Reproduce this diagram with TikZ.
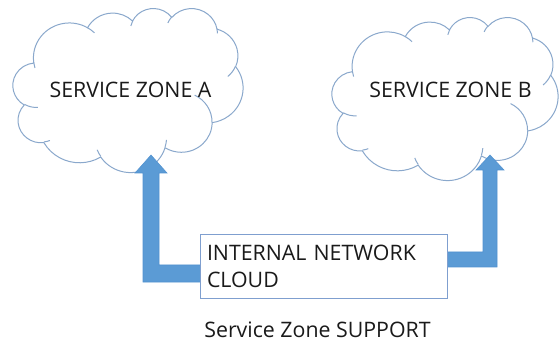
\documentclass[tikz,border=0pt]{standalone}
\usepackage{fontspec}
\setmainfont{Open Sans}
\definecolor{cloudline}{HTML}{8AA8CC}
\definecolor{arrowblue}{HTML}{5B9BD5}
\definecolor{arrowedge}{HTML}{5292D0}
\definecolor{boxline}{HTML}{7F9FCF}
\definecolor{txt}{HTML}{1A1A1A}
\makeatletter
\newcommand\cldcalc[5]{%
  \pgfmathsetmacro\cld@ts{atan2((#2)*sin(#4),(#3)*cos(#4))}%
  \pgfmathsetmacro\cld@te{atan2((#2)*sin((#4)+(#5)),(#3)*cos((#4)+(#5)))}%
  \pgfmathsetmacro\cld@d{\cld@te-\cld@ts}%
  \pgfmathsetmacro\cld@d{\cld@d+360*round(((#5)-\cld@d)/360)}%
  \expandafter\xdef\csname cldS#1\endcsname{\cld@ts}%
  \expandafter\xdef\csname cldD#1\endcsname{\cld@d}%
}
\makeatother
\cldcalc{a}{67.53}{91.90}{-190.48748}{123.78053}
\cldcalc{b}{53.33}{72.67}{-144.10238}{89.94523}
\cldcalc{c}{43.65}{59.45}{-145.80792}{99.72302}
\cldcalc{d}{48.57}{65.95}{-130.98607}{117.24173}
\cldcalc{e}{53.33}{72.73}{-78.70888}{109.02692}
\cldcalc{f}{67.75}{92.20}{-46.26725}{130.26900}
\cldcalc{g}{57.85}{78.67}{0.62502}{114.03333}
\cldcalc{h}{67.52}{92.15}{22.45160}{115.17255}
\cldcalc{i}{77.20}{105.43}{66.24263}{75.71102}
\cldcalc{j}{43.60}{59.18}{-274.94208}{146.73557}
\cldcalc{k}{43.45}{59.45}{-246.82850}{152.51885}
\cldcalc{l}{43.45}{59.45}{86.74200}{26.42950}
\cldcalc{m}{43.60}{59.18}{73.61047}{11.44747}
\cldcalc{n}{67.52}{92.15}{137.62415}{14.08110}
\cldcalc{o}{67.52}{92.15}{6.45327}{15.99835}
\cldcalc{p}{57.85}{78.67}{-70.29235}{70.91737}
\cldcalc{q}{53.33}{72.73}{30.31803}{27.75150}
\cldcalc{r}{48.57}{65.95}{-13.74433}{14.85890}
\cldcalc{s}{48.57}{65.95}{-149.18145}{18.19537}
\cldcalc{t}{43.65}{59.45}{-163.49427}{17.68635}
\cldcalc{u}{67.53}{91.90}{-66.70695}{12.31935}
\cldcalc{v}{67.53}{91.90}{157.65435}{11.85393}
\newcommand\cldarc[3]{arc[x radius=#1, y radius=#2, start angle=\csname cldS#3\endcsname, delta angle=\csname cldD#3\endcsname]}
\newcommand\drawcloud[4]{%
  \begin{scope}[shift={(#1,#2)}, xscale=#3/432, yscale=#4/432]
    \path[cloudstyle, fill=white] (39.00,143.70)
      \cldarc{67.53}{91.90}{a}
      \cldarc{53.33}{72.67}{b}
      \cldarc{43.65}{59.45}{c}
      \cldarc{48.57}{65.95}{d}
      \cldarc{53.33}{72.73}{e}
      \cldarc{67.75}{92.20}{f}
      \cldarc{57.85}{78.67}{g}
      \cldarc{67.52}{92.15}{h}
      \cldarc{77.20}{105.43}{i}
      \cldarc{43.60}{59.18}{j}
      \cldarc{43.45}{59.45}{k}
      -- cycle;
    \path[cloudstyle]
      (46.93,261.77) \cldarc{43.45}{59.45}{l}
      (69.28,348.99) \cldarc{43.60}{59.18}{m}
      (164.78,390.90) \cldarc{67.52}{92.15}{n}
      (288.27,347.51) \cldarc{67.52}{92.15}{o}
      (341.29,229.54) \cldarc{57.85}{78.67}{p}
      (417.98,153.54) \cldarc{53.33}{72.73}{q}
      (383.24,54.26) \cldarc{48.57}{65.95}{r}
      (290.78,39.52) \cldarc{48.57}{65.95}{s}
      (221.41,47.20) \cldarc{43.65}{59.45}{t}
      (140.00,51.92) \cldarc{67.53}{91.90}{u}
      (41.27,157.89) \cldarc{67.53}{91.90}{v};
  \end{scope}}
\tikzset{
  cloudstyle/.style={draw=cloudline, line width=0.75pt},
  arrowshape/.style={fill=arrowblue, draw=arrowedge, line width=0.4pt, line join=miter},
  netbox/.style={draw=boxline, line width=0.75pt, fill=white, rectangle,
    minimum width=185.25pt, minimum height=47.25pt, inner xsep=5.25pt, inner ysep=0pt,
    text width=174.75pt, align=left, font=\fontsize{16}{20.25}\selectfont, text=txt},
  label/.style={font=\fontsize{16}{20}\selectfont, text=txt, anchor=base, inner sep=0pt}
}
\begin{document}
\begin{tikzpicture}[x=0.75pt, y=-0.75pt]
  \useasboundingbox[fill=white] (0,0) rectangle (560,345);
  \drawcloud{13}{8}{230}{164}
  \drawcloud{332}{17}{226}{163}
  \node[label] (za) at (130.5,98) {SERVICE ZONE A};
  \node[label] (zb) at (450.5,98) {SERVICE ZONE B};
  \coordinate (tipA) at (151,155);
  \coordinate (tipB) at (490,155);
  \path[arrowshape] (tipA) -- ++(16,18) -- ++(-8,0) -- ++(0,92) -- ++(50,0)
    -- ++(0,17) -- ++(-66,0) -- ++(0,-109) -- ++(-8,0) -- cycle;
  \path[arrowshape] (tipB) -- ++(14,15) -- ++(-7,0) -- ++(0,97) -- ++(-57,0)
    -- ++(0,-15) -- ++(43,0) -- ++(0,-82) -- ++(-7,0) -- cycle;
  \node[netbox] (net) at (323.5,266.5) {INTERNAL NETWORK\\CLOUD};
  \node[label] (sup) at (317.5,337) {Service Zone SUPPORT};
\end{tikzpicture}
\end{document}
